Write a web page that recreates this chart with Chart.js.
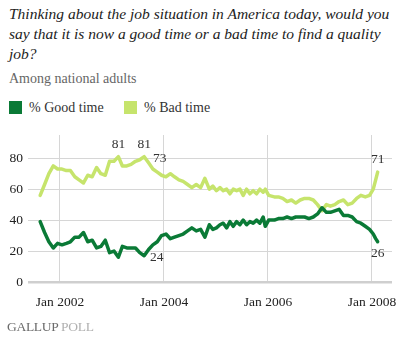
<!DOCTYPE html>
<html>
<head>
<meta charset="utf-8">
<script src="https://cdn.jsdelivr.net/npm/chart.js@4/dist/chart.umd.min.js"></script>
<style>
  html, body { margin: 0; padding: 0; background: #fff; }
  body { width: 420px; height: 342px; position: relative; overflow: hidden; font-family: "Liberation Serif", "DejaVu Serif", serif; }
  .title { position: absolute; left: 9px; top: 4px; font-style: italic; font-size: 15.5px; line-height: 20px; color: #222; white-space: nowrap; }
  .sub { position: absolute; left: 9px; top: 71px; font-size: 14px; color: #666; white-space: nowrap; }
  .legend { position: absolute; top: 100px; left: 9px; font-size: 14px; color: #333; white-space: nowrap; }
  .legend span.item { position: absolute; top: 0; display: block; height: 15px; line-height: 15px; }
  .legend i { position: absolute; left: 0; top: 1px; width: 13px; height: 13px; }
  .legend b { position: absolute; left: 20px; top: 0; font-weight: normal; }
  .footer { position: absolute; left: 7px; top: 319px; font-size: 13.5px; letter-spacing: -0.3px; white-space: nowrap; }
  .footer .g { color: #6a6a6a; }
  .footer .p { color: #b0b0b0; }
  #wrap { position: absolute; left: 0; top: 120px; width: 420px; height: 200px; }
</style>
</head>
<body>
<div class="title">Thinking about the job situation in America today, would you<br>say that it is now a good time or a bad time to find a quality<br>job?</div>
<div class="sub">Among national adults</div>
<div class="legend">
  <span class="item" style="left:0"><i id="swGood"></i><b>% Good time</b></span>
  <span class="item" style="left:115px"><i id="swBad"></i><b>% Bad time</b></span>
</div>
<div id="wrap"><canvas id="c" width="420" height="200"></canvas></div>
<div class="footer"><span class="g">GALLUP</span> <span class="p">POLL</span></div>

<script>
// Poll dates (field period midpoints)
const pollDates = [
  "2001-08-15","2001-09-15","2001-10-15","2001-11-15","2001-12-15",
  "2002-01-15","2002-02-15","2002-03-15","2002-04-15","2002-05-15","2002-06-15",
  "2002-07-15","2002-08-15","2002-09-15","2002-10-15","2002-11-15","2002-12-15",
  "2003-01-15","2003-02-15","2003-03-15","2003-04-15","2003-05-15","2003-06-15",
  "2003-07-15","2003-08-15","2003-09-15","2003-10-15","2003-11-15","2003-12-15",
  "2004-01-15","2004-02-15","2004-03-15","2004-04-15","2004-05-15","2004-06-15",
  "2004-07-15","2004-08-15","2004-09-15","2004-10-15","2004-11-15","2004-12-10",
  "2005-01-04","2005-01-29","2005-02-21","2005-03-17","2005-04-09","2005-05-02",
  "2005-05-26","2005-06-18","2005-07-11","2005-08-04","2005-08-27","2005-09-19",
  "2005-10-13","2005-11-05","2005-11-28","2005-12-13",
  "2006-01-06","2006-02-15","2006-03-15","2006-04-15","2006-05-15","2006-06-15",
  "2006-07-15","2006-08-15","2006-09-15","2006-10-15","2006-11-15","2006-12-15",
  "2007-01-15","2007-02-15","2007-03-15","2007-04-15","2007-05-15","2007-06-15",
  "2007-07-15","2007-08-15","2007-09-15","2007-10-15","2007-11-15","2007-12-15",
  "2008-01-10","2008-01-27","2008-02-10"
];

// % saying it is a good time to find a quality job
const goodTime = [
  39,32,26,22,25,
  24,25,26,29,29,32,
  26,27,22,23,27,19,
  20,16,23,22,22,22,
  19,17,21,24,26,30,
  31,28,29,30,31,33,
  35,33,34,29,37,34,
  35,37,38,35,39,36,
  39,37,40,37,39,38,
  40,38,42,36,
  40,40,41,41,42,41,
  42,42,42,41,42,44,
  48,45,45,46,47,43,
  43,42,39,38,36,34,
  31,28,26
];

// % saying it is a bad time to find a quality job
const badTime = [
  56,63,70,75,73,
  73,72,72,68,66,64,
  69,68,74,70,69,78,
  78,81,75,75,76,78,
  79,81,77,73,71,69,
  68,70,68,66,65,63,
  61,63,61,67,60,62,
  59,61,59,60,57,60,
  59,60,56,60,57,59,
  57,60,58,60,
  56,55,55,54,52,53,
  51,53,54,54,53,50,
  46,50,49,50,52,53,
  50,51,54,56,55,56,
  60,66,71
];

// Horizontal axis ticks
const xTickYears = [2002, 2004, 2006, 2008];
const xTickLabels = ["Jan 2002", "Jan 2004", "Jan 2006", "Jan 2008"];
// Vertical axis ticks
const yTicks = [0, 20, 40, 60, 80];

// Values called out with a number next to the line
const callouts = [
  { series: "bad",  date: "2003-02-15", place: "above" },
  { series: "bad",  date: "2003-08-15", place: "above" },
  { series: "bad",  date: "2003-10-15", place: "aboveRight" },
  { series: "good", date: "2003-10-15", place: "belowRight" },
  { series: "bad",  date: "2008-02-10", place: "above" },
  { series: "good", date: "2008-02-10", place: "below" }
];

const GOOD_COLOR = "#0a7a36";
const BAD_COLOR = "#c6e46c";
document.getElementById("swGood").style.background = GOOD_COLOR;
document.getElementById("swBad").style.background = BAD_COLOR;

function toYear(s) {
  const [y, m, d] = s.split("-").map(Number);
  const start = Date.UTC(y, 0, 1), end = Date.UTC(y + 1, 0, 1);
  return y + (Date.UTC(y, m - 1, d) - start) / (end - start);
}

const xs = pollDates.map(toYear);
const goodPts = xs.map((x, i) => ({ x, y: goodTime[i] }));
const badPts = xs.map((x, i) => ({ x, y: badTime[i] }));

const calloutPlugin = {
  id: "callouts",
  afterDatasetsDraw(chart) {
    const ctx = chart.ctx;
    ctx.save();
    ctx.font = "13.5px 'Liberation Serif', serif";
    ctx.fillStyle = "#333";
    ctx.textAlign = "center";
    ctx.textBaseline = "middle";
    const off = {
      above: [0, -12.5], below: [0, 12], aboveRight: [7, -11], belowRight: [4, 13]
    };
    callouts.forEach(c => {
      const dsIndex = c.series === "good" ? 0 : 1;
      const i = pollDates.indexOf(c.date);
      const el = chart.getDatasetMeta(dsIndex).data[i];
      const val = chart.data.datasets[dsIndex].data[i].y;
      const [dx, dy] = off[c.place];
      ctx.fillText(String(val), el.x + dx, el.y + dy);
    });
    ctx.restore();
  }
};

new Chart(document.getElementById("c"), {
  type: "line",
  data: {
    datasets: [
      { label: "% Good time", data: goodPts, borderColor: GOOD_COLOR, backgroundColor: GOOD_COLOR,
        borderWidth: 3.5, pointRadius: 0, tension: 0, borderJoinStyle: "round", borderCapStyle: "round" },
      { label: "% Bad time", data: badPts, borderColor: BAD_COLOR, backgroundColor: BAD_COLOR,
        borderWidth: 3.5, pointRadius: 0, tension: 0, borderJoinStyle: "round", borderCapStyle: "round" }
    ]
  },
  options: {
    responsive: false,
    animation: false,
    events: [],
    layout: { padding: { top: 15, right: 28, left: 0, bottom: 0 } },
    plugins: { legend: { display: false }, tooltip: { enabled: false }, title: { display: false } },
    scales: {
      x: {
        type: "linear",
        min: 2001.385,
        max: 2008.385,
        afterBuildTicks: s => { s.ticks = xTickYears.map(v => ({ value: v })); },
        afterFit: s => { s.height = 38; },
        border: { display: false },
        grid: { color: "#d6d6d6", lineWidth: 1, drawTicks: false },
        ticks: {
          padding: 12,
          maxRotation: 0,
          autoSkip: false,
          color: "#222",
          font: { family: "'Liberation Serif', serif", size: 13.5 },
          callback: (v, i) => xTickLabels[i]
        }
      },
      y: {
        min: 0,
        max: 95,
        afterBuildTicks: s => { s.ticks = yTicks.map(v => ({ value: v })); },
        afterFit: s => { s.width = 28; },
        border: { display: false },
        grid: {
          drawTicks: false,
          color: c => c.tick && c.tick.value === 0 ? "#cfcfcf" : "#d6d6d6",
          lineWidth: c => c.tick && c.tick.value === 0 ? 2.5 : 1
        },
        ticks: {
          padding: 5,
          color: "#222",
          font: { family: "'Liberation Serif', serif", size: 13.5 },
          callback: v => String(v)
        }
      }
    }
  },
  plugins: [calloutPlugin]
});
</script>
</body>
</html>
